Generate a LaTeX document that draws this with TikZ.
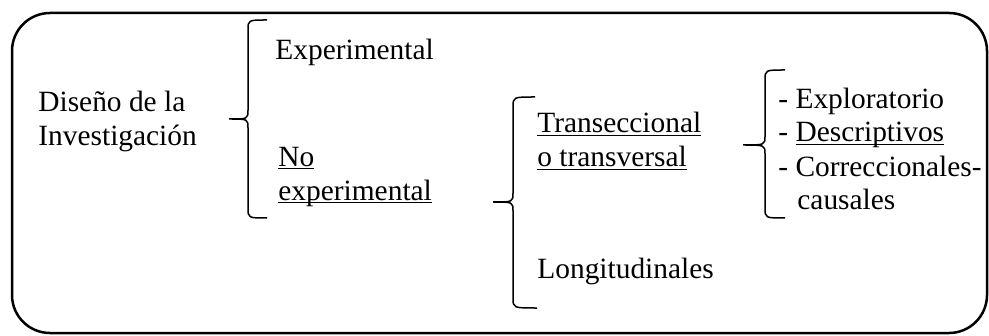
\documentclass[tikz,border=0pt]{standalone}
\usepackage{fontspec}
\setmainfont{Liberation Serif}
\usetikzlibrary{positioning,calc}
\newcommand{\ulw}[1]{\setbox0\hbox{#1}\rlap{\rule[-1.7pt]{\wd0}{0.9pt}}\box0}

\begin{document}
\begin{tikzpicture}[
    x=0.5pt, y=-0.5pt,
    label/.style={inner sep=0pt, anchor=base west, align=left, font=\fontsize{14.7}{17}\selectfont},
    frame/.style={draw=black, line width=1.25pt, rounded corners=19pt},
    brace/.style={draw=black, line width=0.75pt}
]
\useasboundingbox (0,0) rectangle (989,336);

% Outer frame
\draw[frame] (12,13) rectangle (987,333);

% Texts (multi-line nodes sit on their last baseline)
\node[label] (diseno) at (38,146) {Diseño de la\\Investigación};
\node[label] (exper) at (275,60) {Experimental};
\node[label] (noexp) at (278,200) {\ulw{No}\\\ulw{experimental}};
\node[label] (trans) at (537,167) {\ulw{Transeccional}\\\ulw{o transversal}};
\node[label] (longi) at (537,278) {Longitudinales};
\node[label] (tipos) at (778,210) {- Exploratorio\\- \ulw{Descriptivos}\\- Correccionales-\\\hspace*{9.5pt}causales};

% Brace tips
\coordinate (b1) at (229,119);
\coordinate (b2) at (493,202);
\coordinate (b3) at (743,145);

% Braces
\draw[brace] (267,20) .. controls (248,20) .. (248,30) -- (248,110) .. controls (248,119) .. (b1)
    .. controls (248,119) .. (248,128) -- (248,208) .. controls (248,218) .. (267,218);
\draw[brace] (535,97) .. controls (513,97) .. (513,107) -- (513,193) .. controls (513,202) .. (b2)
    .. controls (513,202) .. (513,211) -- (513,298) .. controls (513,308) .. (537,308);
\draw[brace] (785,70) .. controls (765,70) .. (765,80) -- (765,136) .. controls (765,145) .. (b3)
    .. controls (765,145) .. (765,154) -- (765,208) .. controls (765,218) .. (785,218);

\end{tikzpicture}
\end{document}
